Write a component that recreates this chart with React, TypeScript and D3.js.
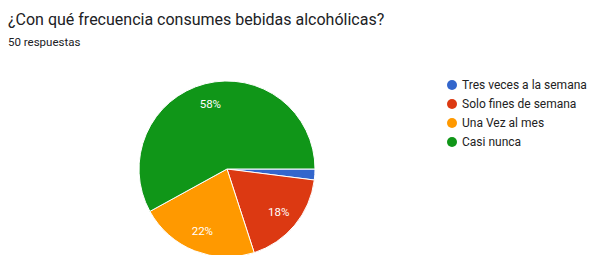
// @ts-nocheck
import React, { useRef, useEffect } from 'react';
import * as d3 from 'd3';

const title = '¿Con qué frecuencia consumes bebidas alcohólicas?';
const subtitle = '50 respuestas';
const categories = ['Tres veces a la semana', 'Solo fines de semana', 'Una Vez al mes', 'Casi nunca'];
const counts = [1, 9, 11, 29];
const colors = ['#3366cc', '#dc3912', '#ff9900', '#109618'];

const W = 590;
const H = 255;

const App = () => {
  const svgRef = useRef(null);

  useEffect(() => {
    const svg = d3.select(svgRef.current);
    svg.selectAll('*').remove();

    svg.append('rect').attr('width', W).attr('height', H).attr('fill', '#fff');

    svg.append('text')
      .attr('x', 8).attr('y', 25)
      .attr('font-family', 'Roboto, sans-serif')
      .attr('font-size', 16)
      .attr('fill', '#202124')
      .text(title);

    svg.append('text')
      .attr('x', 8).attr('y', 46)
      .attr('font-family', 'Roboto, sans-serif')
      .attr('font-size', 11.5)
      .attr('fill', '#202124')
      .text(subtitle);

    const total = d3.sum(counts);
    const cx = 227, cy = 169, R = 88;

    const pie = d3.pie().sort(null)
      .startAngle(Math.PI / 2)
      .endAngle(Math.PI / 2 + 2 * Math.PI);
    const arcs = pie(counts);
    const arc = d3.arc().innerRadius(0).outerRadius(R);
    const labelArc = d3.arc().innerRadius(67).outerRadius(67);

    const g = svg.append('g').attr('transform', `translate(${cx},${cy})`);

    g.selectAll('path')
      .data(arcs)
      .enter().append('path')
      .attr('d', arc)
      .attr('fill', (d, i) => colors[i])
      .attr('stroke', '#fff')
      .attr('stroke-width', 1);

    g.selectAll('text')
      .data(arcs.filter(d => d.value / total >= 0.05))
      .enter().append('text')
      .attr('transform', d => `translate(${labelArc.centroid(d)})`)
      .attr('text-anchor', 'middle')
      .attr('dy', '0.35em')
      .attr('font-family', 'Roboto, sans-serif')
      .attr('font-size', 11.5)
      .attr('fill', '#fff')
      .text(d => `${Math.round((d.value / total) * 100)}%`);

    const legend = svg.append('g').attr('transform', 'translate(452,85)');
    const item = legend.selectAll('g')
      .data(categories)
      .enter().append('g')
      .attr('transform', (d, i) => `translate(0,${i * 19})`);
    item.append('circle')
      .attr('r', 5)
      .attr('fill', (d, i) => colors[i]);
    item.append('text')
      .attr('x', 10)
      .attr('dy', '0.35em')
      .attr('font-family', 'Roboto, sans-serif')
      .attr('font-size', 12)
      .attr('fill', '#222')
      .text(d => d);
  }, []);

  return (
    <svg ref={svgRef} width={W} height={H} style={{ position: 'absolute', left: 0, top: 0 }}></svg>
  );
};

export default App;
